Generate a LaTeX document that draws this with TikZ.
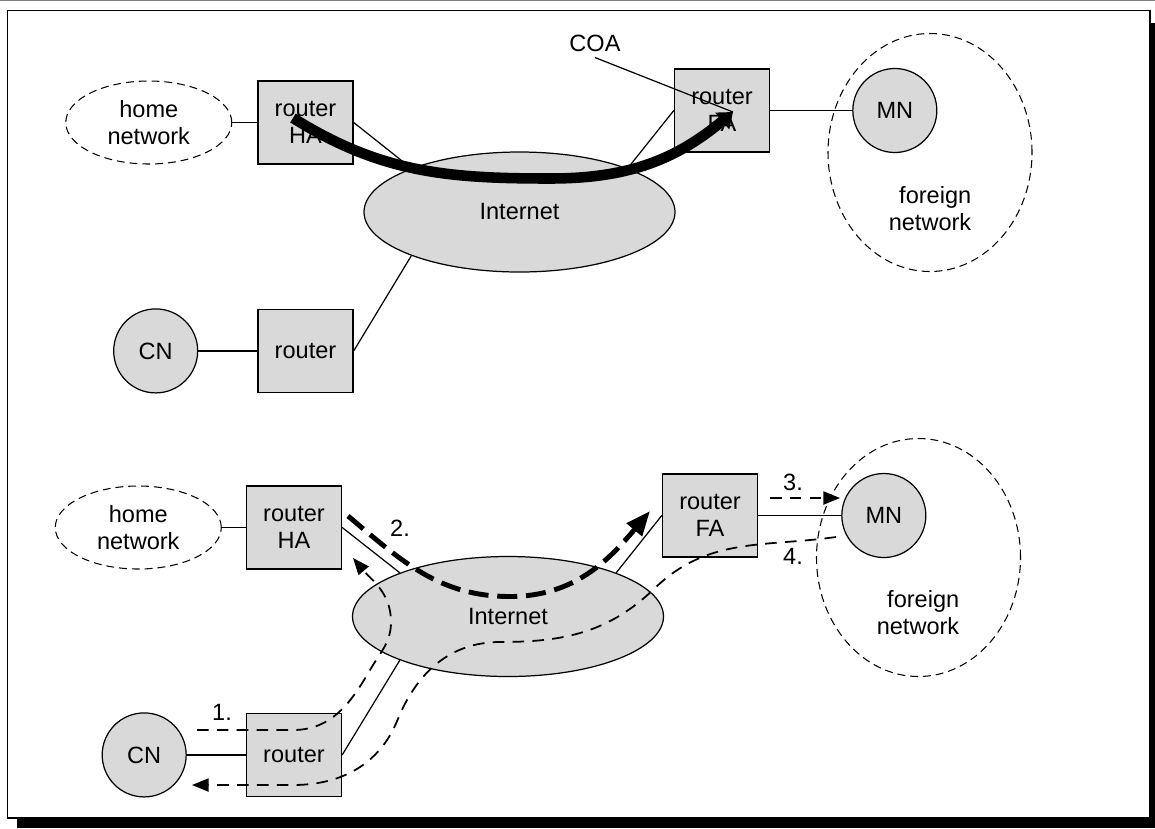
\documentclass[tikz,border=0pt]{standalone}
\usepackage{fontspec}
\setmainfont{Liberation Sans}
\usetikzlibrary{positioning,shapes.geometric,arrows.meta}

\definecolor{nodegray}{RGB}{217,217,217}

\tikzset{
  every node/.style={font=\fontsize{13.4}{15.7}\selectfont, align=center},
  router/.style={draw, line width=0.8pt, fill=nodegray, minimum width=1.9cm, minimum height=1.66cm, inner sep=0pt},
  host/.style={circle, draw, line width=0.7pt, fill=nodegray, minimum size=1.68cm, inner sep=0pt},
  netcloud/.style={ellipse, draw, line width=0.7pt, fill=nodegray, minimum width=6.22cm, minimum height=2.4cm, inner sep=0pt},
  homenet/.style={ellipse, draw, line width=0.6pt, dash pattern=on 4.5pt off 2.8pt, minimum width=3.32cm, minimum height=1.66cm, inner sep=0pt},
  visitnet/.style={ellipse, draw, line width=0.6pt, dash pattern=on 4.5pt off 2.8pt, minimum width=4.08cm, minimum height=4.76cm, inner sep=0pt},
  link/.style={line width=0.7pt},
  tunnel/.style={line width=6pt, -{Triangle[length=8pt,width=12pt]}},
  flow/.style={line width=1pt, dash pattern=on 6.6pt off 4.7pt, -{Triangle[length=9.5pt,width=7.5pt]}},
  bigflow/.style={line width=2.8pt, dash pattern=on 11.4pt off 5pt, -{Triangle[length=14pt,width=11pt]}}
}

\begin{document}
\begin{tikzpicture}[]
\useasboundingbox (0,0) rectangle (23.1,-16.56);
\draw[gray, line width=0.6pt] (0,-0.01) -- (23.1,-0.01);
\fill (0.34,-16.36) rectangle (23.1,-16.56);
\fill (23.0,-0.46) rectangle (23.1,-16.56);
\draw[line width=0.6pt] (0.15,-0.21) rectangle (23.0,-16.36);

\node[router]   (ha) at (6.11,-2.45) {router\\HA} ;
\node[homenet]  (home) [left=0.5cm of ha] {home\\network} ;
\node[router]   (rt) [below=2.88cm of ha] {router} ;
\node[host]     (cn) [left=1.18cm of rt] {CN} ;
\node[netcloud] (inet) at (10.39,-4.24) {Internet} ;
\node[router]   (fa) at (14.44,-2.21) {router\\FA} ;
\node[visitnet] (foreign) at (18.6,-3.05) {} ;
\node[host]     (mn) [right=1.64cm of fa] {MN} ;
\node[align=right] (forlbl) at (18.6,-4.17) {foreign\\network} ;
\node           (coa) at (11.9,-0.86) {COA} ;

\draw[link] (home) -- (ha);
\draw[link] (ha.east) -- (inet.158);
\draw[link] (fa.west) -- (inet.22);
\draw[link] (rt.east) -- (inet.202);
\draw[link] (cn) -- (rt);
\draw[link] (fa) -- (mn);

\coordinate (hain) at (5.86,-2.36);
\coordinate (tunlow) at (11,-3.57);
\coordinate (coatip) at (14.66,-2.24);
\draw[tunnel] (hain) to[out=-32,in=180] (tunlow) to[out=0,in=-140] (coatip);
\draw[link] (coa.south) -- (coatip);

\node[router]   (ha2) at (5.88,-10.55) {router\\HA} ;
\node[homenet]  (home2) [left=0.48cm of ha2] {home\\network} ;
\node[router]   (rt2) [below=2.86cm of ha2] {router} ;
\node[host]     (cn2) [left=1.18cm of rt2] {CN} ;
\node[netcloud] (inet2) at (10.16,-12.33) {Internet} ;
\node[router]   (fa2) at (14.2,-10.31) {router\\FA} ;
\node[visitnet] (foreign2) at (18.37,-11.15) {} ;
\node[host]     (mn2) [right=1.66cm of fa2] {MN} ;
\node[align=right] (forlbl2) at (18.36,-12.25) {foreign\\network} ;

\node (one) at (4.44,-14.24) {1.} ;
\node (two) at (8.0,-10.56) {2.} ;
\node (three) at (15.86,-9.64) {3.} ;
\node (four) at (15.86,-11.12) {4.} ;

\draw[link] (home2) -- (ha2);
\draw[link] (ha2.east) -- (inet2.158);
\draw[link] (fa2.west) -- (inet2.22);
\draw[link] (rt2.east) -- (inet2.202);
\draw[link] (cn2) -- (rt2);
\draw[link] (fa2) -- (mn2);

\coordinate (s1) at (3.94,-14.6);
\coordinate (t1) at (7.06,-11.16);
\draw[flow] (s1) -- (5.86,-14.6) to[out=0,in=-120] (7.4,-13.4)
  to[out=60,in=-90] (7.82,-12.44) to[out=90,in=-50] (t1);

\coordinate (s2) at (6.96,-10.32);
\coordinate (t2) at (13.0,-10.22);
\draw[bigflow] (s2) to[out=-40,in=180] (10.2,-11.93) to[out=0,in=-130] (t2);

\coordinate (s3) at (15.4,-9.96);
\coordinate (t3) at (16.8,-9.96);
\draw[flow] (s3) -- (t3);

\coordinate (s4) at (16.72,-10.74);
\coordinate (t4) at (3.84,-15.7);
\draw[flow] (s4) to[out=188,in=44] (13.1,-11.76) to[out=224,in=0] (10,-12.84)
  to[out=180,in=68] (7.95,-14.4) to[out=248,in=0] (5.86,-15.7) -- (t4);
\end{tikzpicture}
\end{document}
